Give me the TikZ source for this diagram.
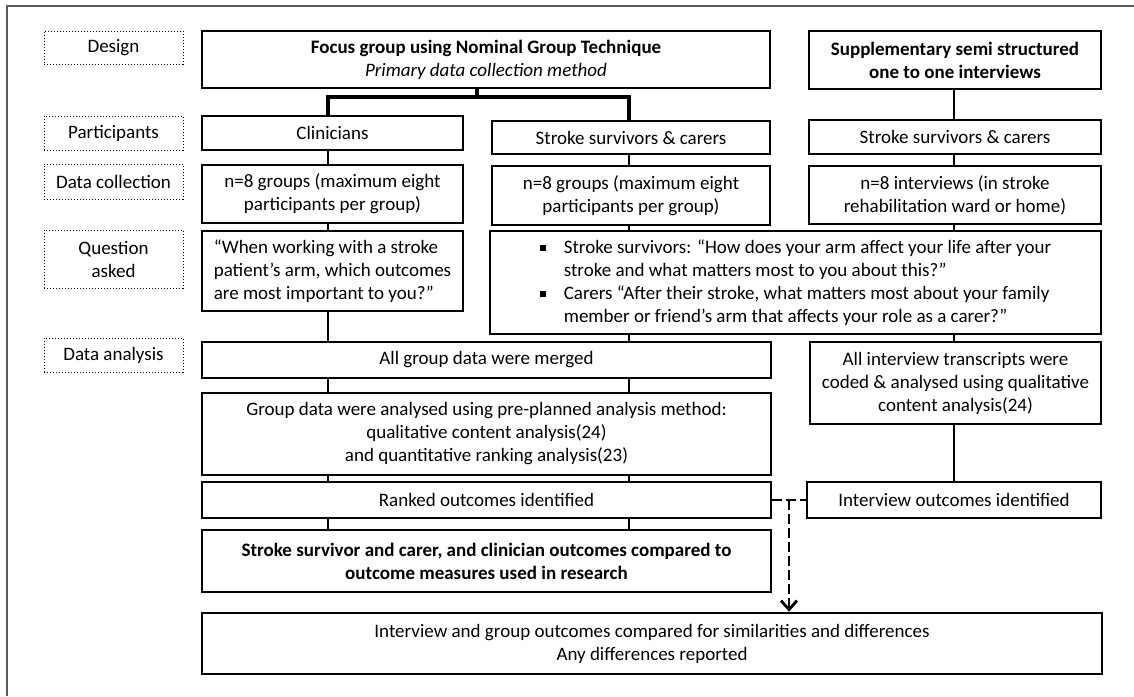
\documentclass[tikz,border=0pt]{standalone}
\usepackage{fontspec}
\setmainfont{Carlito}
\usepackage{tikz}
\usetikzlibrary{arrows.meta, calc}
\definecolor{framegray}{HTML}{5a5a5a}
\newcommand{\qbullet}{\makebox[12pt][l]{\rule[0.3ex]{3pt}{3pt}}}

\begin{document}
\begin{tikzpicture}[
    x=0.5pt, y=-0.5pt,
    font=\fontsize{9.5}{11.5}\selectfont,
    stagebox/.style={draw, densely dotted, line width=0.5pt,
                     minimum width=69.5pt, align=center, inner sep=1pt},
    box/.style={draw, line width=0.6pt, fill=white, align=center, inner sep=1pt},
    heavybox/.style={box, line width=1.3pt},
    conn/.style={line width=1.3pt},
    trunk/.style={line width=1.8pt},
    dashconn/.style={line width=1.4pt, dash pattern=on 5pt off 2pt},
]
    \useasboundingbox (0,0) rectangle (1134,696);
    % outer frame (cropped on the right and bottom)
    \draw[framegray, line width=1pt] (7,696) -- (7,6) -- (1134,6);

    % Stage labels
    \node[stagebox, minimum height=16.5pt] (lDesign) at (113.5,47.5) {Design};
    \node[stagebox, minimum height=17pt] (lPart) at (113.5,133) {Participants};
    \node[stagebox, minimum height=17.5pt] (lColl) at (113.5,181.5) {Data collection};
    \node[stagebox, minimum height=29pt] (lQuest) at (113.5,259) {Question\\asked};
    \node[stagebox, minimum height=17pt] (lAnal) at (113.5,355) {Data analysis};

    % Row 1: Design
    \node[box, minimum width=284pt, minimum height=28.5pt] (focus) at (486,59.5) {
        \textbf{Focus group using Nominal Group Technique}\\
        \textit{Primary data collection method}
    };
    \node[box, minimum width=146pt, minimum height=29pt] (supp) at (955,60) {
        \textbf{Supplementary semi structured}\\
        \textbf{one to one interviews}
    };

    % Row 2: Participants
    \node[box, minimum width=130.5pt, minimum height=17pt] (clin) at (332.5,133) {Clinicians};
    \node[box, minimum width=139pt, minimum height=16.5pt] (midpart) at (631,137.5) {Stroke survivors \& carers};
    \node[box, minimum width=146pt, minimum height=17pt] (rpart) at (955,137) {Stroke survivors \& carers};

    % Row 3: Data collection
    \node[box, minimum width=130.5pt, minimum height=29pt] (n8clin) at (332.5,194) {
        n=8 groups (maximum eight\\participants per group)
    };
    \node[box, minimum width=139pt, minimum height=29.5pt] (n8mid) at (631,195.5) {
        n=8 groups (maximum eight\\participants per group)
    };
    \node[box, minimum width=146pt, minimum height=29pt] (n8int) at (955,195) {
        n=8 interviews (in stroke\\rehabilitation ward or home)
    };

    % Row 4: Questions
    \node[box, align=left, minimum width=130.5pt, minimum height=40pt] (qclin) at (332.5,271) {
        “When working with a stroke\\patient’s arm, which outcomes\\are most important to you?”
    };
    \node[box, align=left, minimum width=305.5pt, minimum height=51.5pt] (qmid) at (795.5,282.5) {
        \qbullet Stroke survivors: “How does your arm affect your life after your\\
        \hspace*{12pt}stroke and what matters most to you about this?”\\
        \qbullet Carers “After their stroke, what matters most about your family\\
        \hspace*{12pt}member or friend’s arm that affects your role as a carer?”
    };

    % Row 5: Data analysis
    \node[box, minimum width=284.5pt, minimum height=18pt] (merged) at (486.5,360) {All group data were merged};
    \node[box, minimum width=145.5pt, minimum height=41pt] (trans) at (955.5,383) {
        All interview transcripts were\\coded \& analysed using qualitative\\content analysis(24)
    };
    \node[box, minimum width=284.5pt, minimum height=41pt] (group) at (486.5,434) {
        Group data were analysed using pre-planned analysis method:\\
        qualitative content analysis(24)\\
        and quantitative ranking analysis(23)
    };
    \node[box, minimum width=284.5pt, minimum height=18pt] (ranked) at (486.5,500) {Ranked outcomes identified};
    \node[box, minimum width=147pt, minimum height=18pt] (intout) at (954,500) {Interview outcomes identified};
    \node[heavybox, minimum width=284.5pt, minimum height=31pt] (compare) at (486.5,561) {
        \textbf{Stroke survivor and carer, and clinician outcomes compared to}\\
        \textbf{outcome measures used in research}
    };
    \node[heavybox, minimum width=450pt, minimum height=30.5pt] (final) at (652,643.5) {
        Interview and group outcomes compared for similarities and differences\\
        Any differences reported
    };

    % Column lines
    \coordinate (lx) at (328,0);
    \coordinate (mx) at (629,0);
    \coordinate (rx) at (954,0);
    \coordinate (fork) at (477,97);

    % Connections
    \draw[trunk] (focus.south -| fork) -- (fork);
    \draw[trunk] (clin.north -| lx) |- (fork) -| (midpart.north -| mx);
    \draw[conn] (supp.south -| rx) -- (rpart.north -| rx);

    \foreach \a/\b in {clin/n8clin, n8clin/qclin, qclin/merged, merged/group, group/ranked, ranked/compare}
        \draw[conn] (\a.south -| lx) -- (\b.north -| lx);
    \foreach \a/\b in {midpart/n8mid, n8mid/qmid, qmid/merged, merged/group, group/ranked, ranked/compare}
        \draw[conn] (\a.south -| mx) -- (\b.north -| mx);
    \foreach \a/\b in {rpart/n8int, n8int/qmid, qmid/trans, trans/intout}
        \draw[conn] (\a.south -| rx) -- (\b.north -| rx);

    % Dashed merge of both outcome sets
    \coordinate (join) at ($(ranked.east)!0.5!(intout.west)$);
    \draw[dashconn] (ranked.east) -- (intout.west);
    \draw[dashconn, -{Straight Barb[length=4.5pt, width=8pt]}] (join) -- (final.north -| join);
\end{tikzpicture}
\end{document}
